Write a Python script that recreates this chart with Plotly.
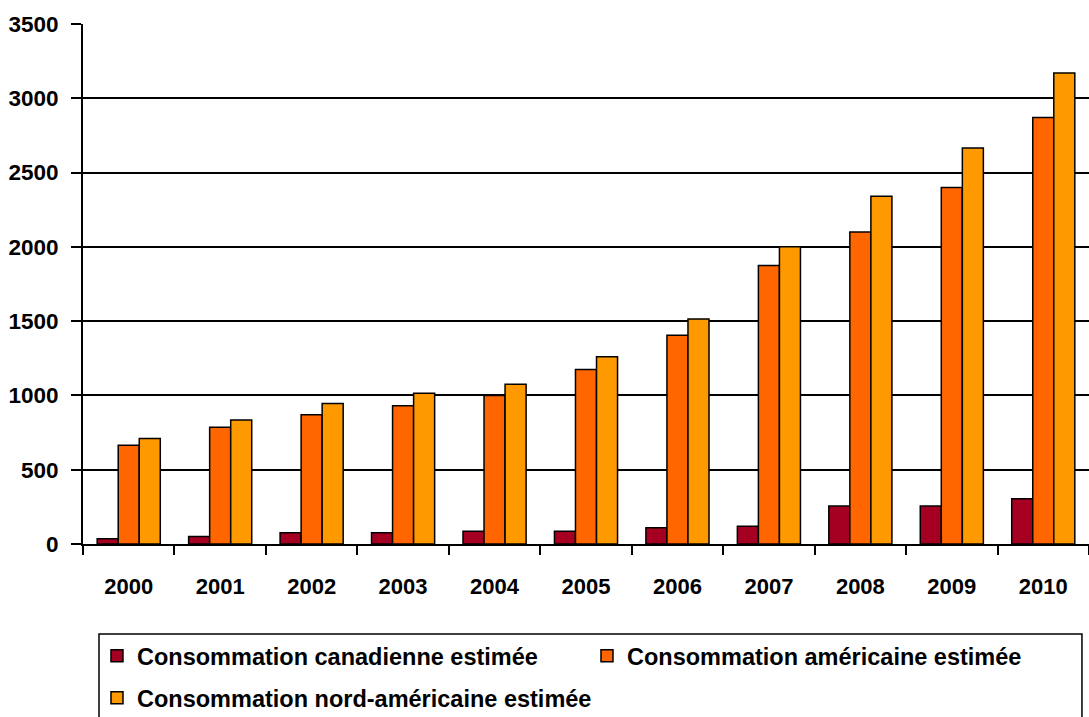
import plotly.graph_objects as go

years = ["2000", "2001", "2002", "2003", "2004", "2005", "2006", "2007", "2008", "2009", "2010"]
canada = [35, 50, 75, 75, 85, 85, 110, 120, 255, 255, 305]
usa = [665, 785, 870, 930, 1000, 1175, 1405, 1875, 2100, 2400, 2870]
north_america = [710, 835, 945, 1015, 1075, 1260, 1515, 2000, 2340, 2665, 3170]

series_names = [
    "Consommation canadienne estimée",
    "Consommation américaine estimée",
    "Consommation nord-américaine estimée",
]
series_colors = ["#A50021", "#FF6600", "#FF9900"]
# first two entries share the top legend row, the third sits on its own row
legend_ids = ["legend", "legend", "legend2"]

FONT = "Liberation Sans, Arial, sans-serif"

fig = go.Figure()
for name, vals, color, lg in zip(series_names, [canada, usa, north_america], series_colors, legend_ids):
    fig.add_trace(go.Bar(
        x=years, y=vals, name=name, legend=lg,
        marker=dict(color=color, line=dict(color="#000000", width=1.5)),
    ))

legend_common = dict(
    orientation="h",
    xanchor="left", yanchor="top",
    borderwidth=0, bgcolor="rgba(0,0,0,0)",
    entrywidthmode="pixels",
    font=dict(family=FONT, size=23.5, color="#000000", weight="bold"),
    traceorder="normal",
)

fig.update_layout(
    width=1089, height=717,
    margin=dict(l=83, r=0, t=24, b=173, autoexpand=False),
    paper_bgcolor="white", plot_bgcolor="white",
    barmode="group", bargap=0.31, bargroupgap=0,
    font=dict(family=FONT, size=23, color="#000000"),
    showlegend=True,
    legend=dict(x=0.0139, y=-0.173, entrywidth=445, **legend_common),
    legend2=dict(x=0.0139, y=-0.254, entrywidth=560, **legend_common),
    shapes=[dict(
        type="rect", xref="paper", yref="paper",
        x0=0.0159, x1=0.9930, y0=-0.173, y1=-0.36,
        line=dict(color="#000000", width=1.5), fillcolor="rgba(0,0,0,0)",
        layer="below",
    )],
)

fig.update_xaxes(
    type="category",
    showgrid=False,
    showline=True, linecolor="#000000", linewidth=2,
    ticks="outside", tickson="boundaries", ticklen=9, tickwidth=1.5, tickcolor="#000000",
    tickfont=dict(family=FONT, size=22, weight="bold"),
    ticklabelstandoff=22,
)
fig.update_yaxes(
    range=[0, 3500], dtick=500,
    showgrid=True, gridcolor="#000000", gridwidth=1.5,
    zeroline=False,
    showline=True, linecolor="#000000", linewidth=2,
    ticks="outside", ticklen=10, tickwidth=1.5, tickcolor="#000000",
    tickfont=dict(family=FONT, size=22.5, weight="bold"),
    ticklabelstandoff=8,
)

fig.write_html("out.html")
